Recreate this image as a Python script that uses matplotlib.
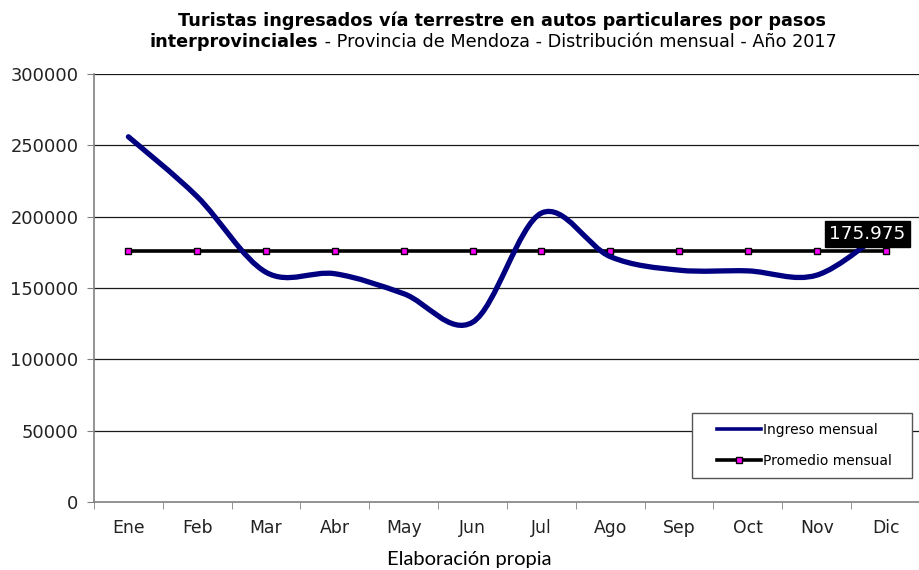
import numpy as np
import matplotlib
matplotlib.use('Agg')
import matplotlib.pyplot as plt
from matplotlib.path import Path
from matplotlib.patches import PathPatch, Rectangle
from matplotlib.lines import Line2D

plt.rcParams['font.family'] = ['DejaVu Sans']

# Datos
meses = ['Ene', 'Feb', 'Mar', 'Abr', 'May', 'Jun', 'Jul', 'Ago', 'Sep', 'Oct', 'Nov', 'Dic']
ingreso = [256000, 214000, 161000, 160000, 146000, 126000, 202500, 172000, 162500, 162000, 159000, 191000]
promedio = 175975
yticks = [0, 50000, 100000, 150000, 200000, 250000, 300000]

x = np.arange(len(meses))
y = np.array(ingreso, dtype=float)

# Curva suavizada tipo Excel (Bezier cúbica, estilo Catmull-Rom)
def camino_suave(xs, ys):
    pts = np.column_stack([xs, ys])
    ext = np.vstack([pts[0], pts, pts[-1]])
    verts = [pts[0]]
    codes = [Path.MOVETO]
    for i in range(len(pts) - 1):
        p0, p1, p2, p3 = ext[i], ext[i + 1], ext[i + 2], ext[i + 3]
        c1 = p1 + (p2 - p0) / 6
        c2 = p2 - (p3 - p1) / 6
        verts += [c1, c2, p2]
        codes += [Path.CURVE4] * 3
    return Path(verts, codes)

fig = plt.figure(figsize=(9.2, 5.7), dpi=100)
ax = fig.add_axes([94 / 920, 1 - 502 / 570, 826 / 920, 428 / 570])

ax.set_xlim(-0.5, 11.5)
ax.set_ylim(0, 300000)

# grilla
for v in yticks[1:]:
    ax.axhline(v, color='#1a1a1a', lw=0.9, zorder=1)

# promedio
ax.plot(x, [promedio] * len(x), color='black', lw=2.6, zorder=2,
        marker='s', markersize=4, markerfacecolor='#ff00ff', markeredgecolor='black',
        markeredgewidth=1.0)

# ingreso mensual
ax.add_patch(PathPatch(camino_suave(x, y), facecolor='none', edgecolor='#000080',
                       lw=3.8, capstyle='round', joinstyle='round', zorder=3))

# etiqueta del promedio
etiqueta = f'{promedio:,}'.replace(',', '.')
ax.annotate(etiqueta, xy=(x[-1], promedio), xytext=(-13, 12), textcoords='offset points',
            ha='center', va='center', color='white', fontsize=13.2, zorder=5,
            bbox=dict(boxstyle='square,pad=0.22', facecolor='black', edgecolor='black'))

# ejes
ax.set_yticks(yticks)
ax.set_yticklabels([str(v) for v in yticks], fontsize=12.9, color='#222222')
ax.set_xticks(x)
ax.set_xticklabels(meses, fontsize=12.4, color='#222222')
ax.set_xticks(np.arange(-0.5, 12, 1), minor=True)
ax.tick_params(axis='x', which='major', length=0, pad=12)
ax.tick_params(axis='x', which='minor', length=5, color='#808080', direction='out')
ax.tick_params(axis='y', length=5, color='#808080', pad=6)
for s in ['top', 'right']:
    ax.spines[s].set_visible(False)
ax.spines['left'].set_color('#808080')
ax.spines['bottom'].set_color('#808080')
ax.spines['left'].set_linewidth(1.2)
ax.spines['bottom'].set_linewidth(1.2)

# leyenda (marco propio)
ax.add_patch(Rectangle((0.724, 0.056), 0.266, 0.152, transform=ax.transAxes,
                       facecolor='white', edgecolor='#555555', lw=1.0, zorder=6))
handles = [
    Line2D([], [], color='#000080', lw=2.6),
    Line2D([], [], color='black', lw=2.6, marker='s', markersize=4,
           markerfacecolor='#ff00ff', markeredgecolor='black'),
]
leg = ax.legend(handles, ['Ingreso mensual', 'Promedio mensual'], loc='center left',
                bbox_to_anchor=(0.754, 0.132), fontsize=10, frameon=False,
                handlelength=3.2, handletextpad=0.15, labelspacing=1.2,
                borderpad=0, borderaxespad=0)
leg.set_zorder(7)

# título
fig.text(0.546, 0.963, 'Turistas ingresados vía terrestre en autos particulares por pasos',
         ha='center', va='center', fontsize=12.7, fontweight='bold')
t1 = fig.text(0.163, 0.926, 'interprovinciales', ha='left', va='center',
              fontsize=12.7, fontweight='bold')
fig.canvas.draw()
bb = t1.get_window_extent()
fig.text(bb.x1 / 920, 0.926,
         ' - Provincia de Mendoza - Distribución mensual - Año 2017',
         ha='left', va='center', fontsize=12.7)

fig.text(469 / 920, 1 - 560 / 570, 'Elaboración propia', ha='center', va='center',
         fontsize=14.5, family='Lato')

fig.savefig('out.png', dpi=100)
